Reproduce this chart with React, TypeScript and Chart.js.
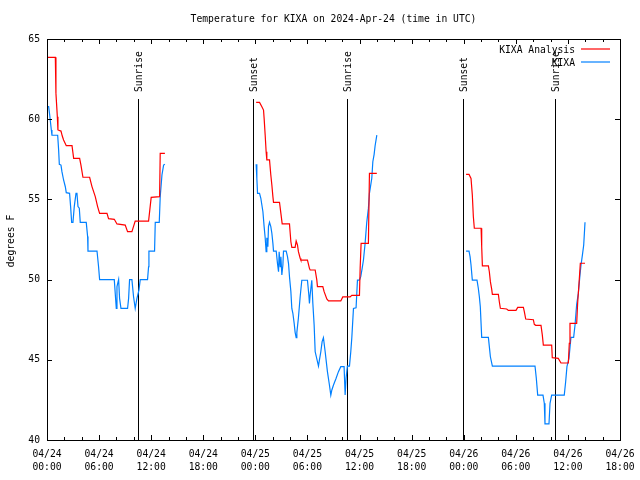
import React, { useEffect, useRef } from 'react';
import { Chart, registerables } from 'chart.js';

Chart.register(...registerables);

const TITLE = 'Temperature for KIXA on 2024-Apr-24 (time in UTC)';
const Y_LABEL = 'degrees F';
const LEGEND_LABELS = ['KIXA Analysis', 'KIXA'];
const SERIES_COLORS = ['#ff0000', '#0080ff'];

// x axis: hours since 04/24 00:00 UTC
const xTickDates = ['04/24', '04/24', '04/24', '04/24', '04/25', '04/25', '04/25', '04/25', '04/26', '04/26', '04/26', '04/26'];
const xTickTimes = ['00:00', '06:00', '12:00', '18:00', '00:00', '06:00', '12:00', '18:00', '00:00', '06:00', '12:00', '18:00'];
const yTickValues = [40, 45, 50, 55, 60, 65];

const sunEventLabels = ['Sunrise', 'Sunset', 'Sunrise', 'Sunset', 'Sunrise'];
const sunEventHours = [10.43, 23.78, 34.53, 47.96, 58.51];

// KIXA Analysis (red)
const analysisHours: (number | null)[] = [
  0, 0.96, 1.03, 1.19, 1.26, 1.61, 1.76, 1.91, 2.22, 2.88, 3.07, 3.76, 3.91, 4.14, 4.91, 5.18, 5.56, 5.83, 6.06, 6.91,
  7.09, 7.75, 8.06, 9.01, 9.28, 9.78, 10.16, 11.7, 12.0, 12.97, 13.04, 13.58,
  null,
  24.09, 24.48, 24.75, 24.94, 25.01, 25.13, 25.24, 25.32, 25.63, 25.78, 25.9, 26.02, 26.09, 26.78, 26.94, 27.09, 27.93,
  28.09, 28.2, 28.58, 28.7, 28.85, 28.96, 29.16, 29.24, 30.0, 30.23, 30.31, 30.89, 31.08, 31.15, 31.77, 31.92, 32.23,
  32.42, 33.84, 34.07, 34.91, 35.11, 35.99, 36.07, 36.18, 37.02, 37.14, 37.99,
  null,
  48.27, 48.61, 48.84, 48.99, 49.11, 49.22, 50.0, 50.07, 50.15, 50.84, 50.95, 51.07, 51.22, 51.3, 51.99, 52.1, 52.22,
  52.95, 53.14, 54.02, 54.22, 54.87, 54.98, 55.14, 56.02, 56.13, 56.29, 56.9, 57.05, 57.17, 58.13, 58.2, 58.89, 59.2,
  60.05, 60.16, 60.24, 61.01, 61.12, 61.28, 61.43, 61.97,
];
const analysisTemps: (number | null)[] = [
  63.86, 63.86, 61.61, 60.16, 59.33, 59.26, 58.95, 58.7, 58.35, 58.35, 57.56, 57.56, 57.14, 56.38, 56.38, 55.8, 55.17,
  54.55, 54.13, 54.13, 53.8, 53.76, 53.47, 53.4, 52.99, 52.99, 53.65, 53.65, 55.13, 55.17, 57.87, 57.87,
  null,
  61.05, 61.05, 60.78, 60.57, 60.05, 59.01, 57.97, 57.46, 57.46, 56.52, 55.9, 55.17, 54.82, 54.82, 54.13, 53.47, 53.47,
  52.36, 52.01, 52.01, 52.41, 52.16, 51.74, 51.33, 51.22, 51.22, 50.7, 50.6, 50.6, 49.97, 49.56, 49.56, 49.25, 48.79,
  48.67, 48.67, 48.92, 48.92, 49.02, 49.02, 50.7, 52.26, 52.26, 56.62, 56.62,
  null,
  56.56, 56.56, 56.31, 55.27, 53.92, 53.2, 53.2, 52.05, 50.85, 50.85, 50.49, 49.87, 49.41, 49.08, 49.08, 48.62, 48.21,
  48.17, 48.08, 48.08, 48.27, 48.27, 48.0, 47.54, 47.5, 47.21, 47.15, 47.15, 46.55, 45.92, 45.92, 45.13, 45.09, 44.8,
  44.8, 46.03, 47.27, 47.27, 48.52, 49.77, 51.02, 51.02,
];

// KIXA observations (blue)
const obsHours: (number | null)[] = [
  0, 0.19, 0.31, 0.5, 0.57, 1.23, 1.34, 1.42, 1.61, 1.72, 1.91, 2.11, 2.22, 2.6, 2.72, 2.84, 2.99, 3.14, 3.34, 3.45,
  3.57, 3.72, 3.83, 4.52, 4.68, 4.72, 5.76, 5.94, 6.06, 7.75, 7.9, 7.98, 8.06, 8.25, 8.36, 8.52, 9.28, 9.4, 9.51, 9.78,
  9.97, 10.16, 10.36, 10.59, 10.74, 11.58, 11.7, 11.74, 12.39, 12.47, 12.93, 13.04, 13.24, 13.43, 13.58,
  null,
  24.09, 24.17, 24.25, 24.48, 24.63, 24.75, 24.87, 25.01, 25.13, 25.24, 25.32, 25.44, 25.51, 25.63, 25.78, 25.9, 26.02,
  26.09, 26.4, 26.55, 26.67, 26.74, 26.86, 26.94, 27.05, 27.17, 27.24, 27.55, 27.7, 27.82, 27.93, 28.09, 28.2, 28.32,
  28.47, 28.58, 28.7, 28.78, 28.96, 29.16, 29.35, 30.0, 30.16, 30.23, 30.31, 30.5, 30.62, 30.77, 30.89, 31.27, 31.38,
  31.54, 31.69, 31.84, 32.04, 32.3, 32.53, 32.69, 32.81, 33.0, 33.3, 33.57, 33.84, 34.22, 34.34, 34.45, 34.6, 34.84,
  34.99, 35.11, 35.3, 35.6, 35.76, 35.99, 36.14, 36.3, 36.45, 36.64, 36.83, 37.02, 37.14, 37.41, 37.53, 37.68, 37.79,
  37.99,
  null,
  48.27, 48.61, 48.73, 48.84, 48.99, 49.53, 49.68, 49.8, 49.91, 50.07, 50.84, 50.95, 51.07, 51.3, 56.21, 56.36, 56.52,
  57.13, 57.28, 57.36, 57.82, 57.94, 58.13, 59.58, 59.74, 59.89, 60.12, 60.35, 60.66, 60.82, 61.01, 61.2, 61.39, 61.51,
  61.66, 61.82, 61.97,
];
const obsTemps: (number | null)[] = [
  60.78, 60.78, 60.26, 59.33, 59.0, 59.0, 58.08, 57.19, 57.14, 56.73, 56.21, 55.79, 55.42, 55.38, 54.55, 53.57, 53.57,
  54.55, 55.38, 55.38, 54.55, 54.45, 53.57, 53.57, 52.68, 51.78, 51.78, 50.8, 50.0, 50.0, 48.83, 48.2, 49.56, 50.0,
  48.83, 48.2, 48.2, 48.83, 50.0, 50.0, 48.93, 48.2, 48.83, 49.35, 50.0, 50.0, 50.8, 51.78, 51.78, 53.57, 53.57, 55.17,
  56.52, 57.14, 57.19,
  null,
  57.19, 56.32, 55.38, 55.38, 55.07, 54.65, 54.23, 53.3, 52.61, 51.74, 52.61, 52.05, 53.3, 53.57, 53.3, 52.89, 52.26,
  51.78, 51.78, 51.0, 50.49, 51.74, 50.8, 51.43, 50.29, 50.91, 51.78, 51.78, 51.43, 51.0, 50.18, 49.25, 48.2, 47.9,
  47.27, 46.71, 46.38, 46.71, 47.62, 48.93, 49.96, 49.96, 49.04, 48.52, 49.04, 49.96, 48.52, 47.17, 45.5, 44.61, 44.99,
  45.5, 46.13, 46.38, 45.5, 44.26, 43.43, 42.8, 43.12, 43.43, 43.85, 44.26, 44.57, 44.57, 42.8, 43.85, 44.61, 44.61,
  45.5, 46.38, 48.2, 48.24, 49.97, 49.97, 50.18, 50.7, 51.22, 52.26, 53.57, 54.44, 55.38, 56.32, 57.35, 57.81, 58.33,
  59.01,
  null,
  51.78, 51.78, 51.43, 50.91, 49.97, 49.97, 49.46, 48.93, 48.31, 46.4, 46.4, 45.82, 45.19, 44.61, 44.61, 43.85, 42.8,
  42.8, 42.29, 41.0, 41.0, 42.29, 42.8, 42.8, 43.63, 44.57, 45.09, 46.4, 46.4, 47.17, 48.46, 49.14, 50.29, 50.91,
  51.49, 52.16, 53.57,
];

const X_MIN = 0;
const X_MAX = 66;
const MAJOR_STEP = 6;
const MINOR_STEP = 2;
const FONT_FAMILY = '"DejaVu Sans Mono", monospace';
const FONT_SIZE = 9.7;

function toPoints(hours: (number | null)[], temps: (number | null)[]) {
  const pts: { x: number; y: number | null }[] = [];
  hours.forEach((h, i) => {
    if (h === null || temps[i] === null) {
      const prev = pts.length ? pts[pts.length - 1].x : 0;
      pts.push({ x: prev + 0.5, y: null });
    } else {
      pts.push({ x: h, y: temps[i] as number });
    }
  });
  return pts;
}

const decorPlugin = {
  id: 'gnuplotDecor',
  beforeDatasetsDraw(chart: any) {
    const { ctx, chartArea, scales } = chart;
    const xs = scales.x;
    ctx.save();
    ctx.strokeStyle = '#000';
    ctx.lineWidth = 1;
    ctx.fillStyle = '#000';
    ctx.font = `${FONT_SIZE}px ${FONT_FAMILY}`;
    sunEventHours.forEach((h, i) => {
      const px = Math.round(xs.getPixelForValue(h)) + 0.5;
      ctx.beginPath();
      ctx.moveTo(px, 99);
      ctx.lineTo(px, chartArea.bottom);
      ctx.stroke();
      ctx.save();
      ctx.translate(px + 1, 92);
      ctx.rotate(-Math.PI / 2);
      ctx.textAlign = 'left';
      ctx.textBaseline = 'middle';
      ctx.fillText(sunEventLabels[i], 0, 0);
      ctx.restore();
    });
    ctx.restore();
  },
  afterDraw(chart: any) {
    const { ctx, chartArea, scales } = chart;
    const xs = scales.x;
    const ys = scales.y;
    const { left, right, top, bottom } = chartArea;
    ctx.save();
    ctx.strokeStyle = '#000';
    ctx.lineWidth = 1;
    // border
    ctx.strokeRect(Math.round(left) + 0.5, Math.round(top) + 0.5, Math.round(right - left), Math.round(bottom - top));
    // x ticks (inward, mirrored)
    ctx.beginPath();
    for (let h = X_MIN; h <= X_MAX; h += MINOR_STEP) {
      const px = Math.round(xs.getPixelForValue(h)) + 0.5;
      const len = h % MAJOR_STEP === 0 ? 5 : 3;
      ctx.moveTo(px, bottom);
      ctx.lineTo(px, bottom - len);
      ctx.moveTo(px, top);
      ctx.lineTo(px, top + len);
    }
    yTickValues.forEach((v) => {
      const py = Math.round(ys.getPixelForValue(v)) + 0.5;
      ctx.moveTo(left, py);
      ctx.lineTo(left + 5, py);
      ctx.moveTo(right, py);
      ctx.lineTo(right - 5, py);
    });
    ctx.stroke();

    ctx.fillStyle = '#000';
    ctx.font = `${FONT_SIZE}px ${FONT_FAMILY}`;
    // title
    ctx.textAlign = 'center';
    ctx.textBaseline = 'middle';
    ctx.fillText(TITLE, (left + right) / 2, 19);
    // y label
    ctx.save();
    ctx.translate(11, 241);
    ctx.rotate(-Math.PI / 2);
    ctx.fillText(Y_LABEL, 0, 0);
    ctx.restore();
    // legend
    const legendY = [50, 63];
    LEGEND_LABELS.forEach((lab, i) => {
      ctx.fillStyle = '#000';
      ctx.textAlign = 'right';
      ctx.fillText(lab, 575, legendY[i]);
      ctx.strokeStyle = SERIES_COLORS[i];
      ctx.lineWidth = 1.2;
      ctx.beginPath();
      ctx.moveTo(581, legendY[i] - 1);
      ctx.lineTo(610, legendY[i] - 1);
      ctx.stroke();
    });
    ctx.restore();
  },
};

export default function App() {
  const canvasRef = useRef<HTMLCanvasElement | null>(null);

  useEffect(() => {
    if (!canvasRef.current) return;
    const font = { family: FONT_FAMILY, size: FONT_SIZE, lineHeight: 1.35 };
    const chart = new Chart(canvasRef.current, {
      type: 'line',
      data: {
        datasets: [
          {
            label: LEGEND_LABELS[0],
            data: toPoints(analysisHours, analysisTemps),
            borderColor: SERIES_COLORS[0],
            borderWidth: 1.2,
            pointRadius: 0,
            fill: false,
            tension: 0,
            spanGaps: false,
          },
          {
            label: LEGEND_LABELS[1],
            data: toPoints(obsHours, obsTemps),
            borderColor: SERIES_COLORS[1],
            borderWidth: 1.2,
            pointRadius: 0,
            fill: false,
            tension: 0,
            spanGaps: false,
          },
        ],
      },
      options: {
        animation: false,
        responsive: false,
        devicePixelRatio: 1,
        layout: { padding: { top: 39, right: 20, left: 0, bottom: 0 } },
        plugins: {
          legend: { display: false },
          title: { display: false },
          tooltip: { enabled: false },
        },
        scales: {
          x: {
            type: 'linear',
            min: X_MIN,
            max: X_MAX,
            grid: { display: false, drawTicks: false, tickLength: 0 },
            border: { display: false },
            ticks: {
              stepSize: MAJOR_STEP,
              autoSkip: false,
              maxRotation: 0,
              padding: 8,
              color: '#000',
              font,
              callback: (v: any) => {
                const i = Math.round(Number(v) / MAJOR_STEP);
                return [xTickDates[i] ?? '', xTickTimes[i] ?? ''];
              },
            },
            afterFit: (s: any) => {
              s.height = 40;
              s.paddingLeft = 0;
              s.paddingRight = 0;
            },
          },
          y: {
            min: yTickValues[0],
            max: yTickValues[yTickValues.length - 1],
            grid: { display: false, drawTicks: false, tickLength: 0 },
            border: { display: false },
            ticks: {
              stepSize: 5,
              padding: 7,
              color: '#000',
              font,
            },
            afterFit: (s: any) => {
              s.width = 47;
              s.paddingTop = 0;
              s.paddingBottom = 0;
            },
          },
        },
      },
      plugins: [decorPlugin],
    } as any);
    return () => chart.destroy();
  }, []);

  return (
    <div style={{ position: 'absolute', left: 0, top: 0, width: 640, height: 480, background: '#fff' }}>
      <canvas ref={canvasRef} width={640} height={480} style={{ display: 'block' }} />
    </div>
  );
}
